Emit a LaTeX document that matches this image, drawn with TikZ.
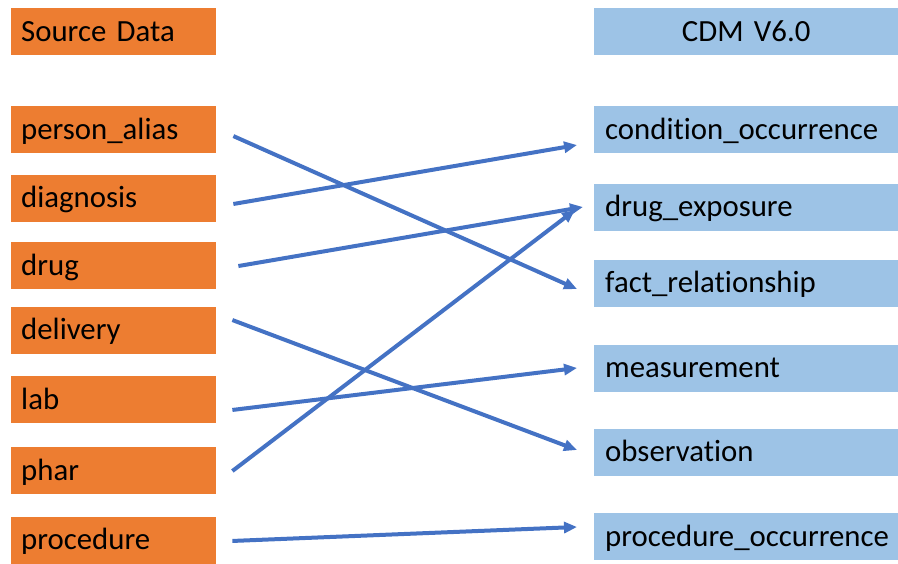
\documentclass[tikz,border=0pt]{standalone}
\usepackage{fontspec}
\setmainfont{Carlito}[Ligatures=NoCommon]
\usepackage{xcolor}
\usepackage{tikz}
\usetikzlibrary{positioning}
\usetikzlibrary{arrows.meta}

\definecolor{srcorange}{HTML}{ED7D31}
\definecolor{cdmblue}{HTML}{9DC3E6}
\definecolor{linkblue}{HTML}{4472C4}

\begin{document}
\begin{tikzpicture}[x=1pt,y=-1pt,
  box/.style={anchor=west,minimum height=47pt,inner ysep=0pt,
    font=\fontsize{30.8}{36}\selectfont,text height=21pt,text depth=2pt},
  src/.style={box,fill=srcorange,text width=185pt,inner xsep=10pt},
  cdm/.style={box,fill=cdmblue,text width=282pt,inner xsep=11pt},
  link/.style={-{Triangle[length=13pt,width=11pt]},draw=linkblue,
    line width=4pt}]
\useasboundingbox (0,0) rectangle (898,563);
% left column
\node[src] (sd) at (11,31.5)  {Source Data};
\node[src] (pa) at (11,129.5) {person\_alias};
\node[src] (dg) at (11,198)   {diagnosis};
\node[src] (dr) at (11,265.5) {drug};
\node[src] (de) at (11,330)   {delivery};
\node[src] (lb) at (11,399.5) {lab};
\node[src] (ph) at (11,470.5) {phar};
\node[src] (pr) at (11,540)   {procedure};
% right column
\node[cdm,align=center] (cd) at (594,31.5) {CDM V6.0};
\node[cdm] (co) at (594,129.5) {condition\_occurrence};
\node[cdm] (dx) at (594,207)   {drug\_exposure};
\node[cdm] (fr) at (594,283)   {fact\_relationship};
\node[cdm] (me) at (594,368)   {measurement};
\node[cdm] (ob) at (594,452)   {observation};
\node[cdm] (po) at (594,536.5) {procedure\_occurrence};
% mappings
\draw[link,shorten <=18.6pt,shorten >=18.6pt]
  ([yshift=1pt]pa.east) -- ([yshift=-13.6pt]fr.west);
\draw[link,shorten <=17.2pt,shorten >=17.2pt]
  ([yshift=-8.9pt]dg.east) -- ([yshift=-12.6pt]co.west);
\draw[link,shorten <=22.3pt,shorten >=11.2pt]
  ([yshift=-4.3pt]dr.east) -- ([yshift=1.9pt]dx.west);
\draw[link,shorten <=17.1pt,shorten >=18.2pt]
  ([yshift=16pt]de.east) -- ([yshift=-4.4pt]ob.west);
\draw[link,shorten <=16.1pt,shorten >=17.1pt]
  ([yshift=-12.4pt]lb.east) -- ([yshift=2.1pt]me.west);
\draw[link,shorten <=20.1pt,shorten >=23.9pt]
  ([yshift=-12.7pt]ph.east) -- ([yshift=11.5pt]dx.west);
\draw[link,shorten <=16pt,shorten >=17pt]
  ([yshift=-1.6pt]pr.east) -- ([yshift=10.2pt]po.west);
\end{tikzpicture}
\end{document}
